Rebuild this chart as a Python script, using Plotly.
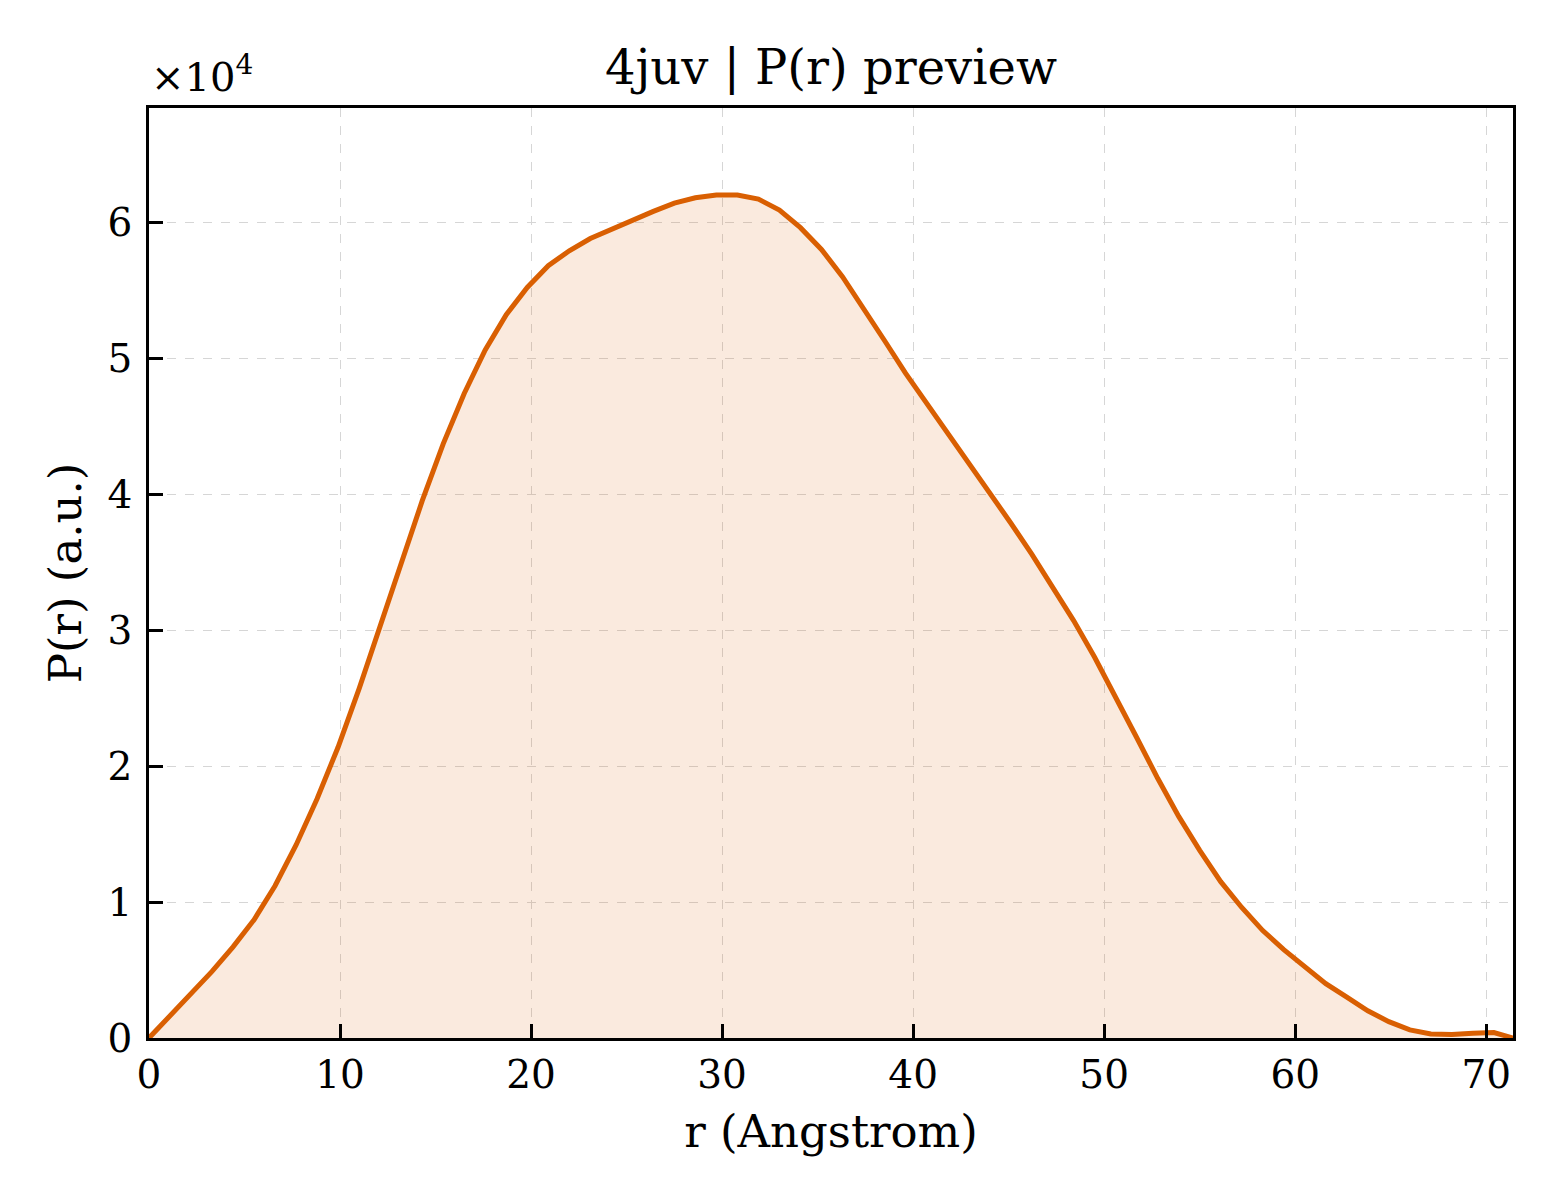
import plotly.graph_objects as go

# P(r) curve
r_vals = [0.0, 1.1, 2.2, 3.3, 4.4, 5.5, 6.6, 7.7, 8.8, 9.9,
          11.0, 12.1, 13.2, 14.3, 15.4, 16.5, 17.6, 18.7, 19.8, 20.9,
          22.0, 23.1, 24.2, 25.3, 26.4, 27.5, 28.6, 29.7, 30.8, 31.9,
          33.0, 34.1, 35.2, 36.3, 37.4, 38.5, 39.6, 40.7, 41.8, 42.9,
          44.0, 45.1, 46.2, 47.3, 48.4, 49.5, 50.6, 51.7, 52.8, 53.9,
          55.0, 56.1, 57.2, 58.3, 59.4, 60.5, 61.6, 62.7, 63.8, 64.9,
          66.0, 67.1, 68.2, 69.3, 70.4, 71.4]
p_vals = [0, 1600, 3200, 4900, 6700, 8700, 11200, 14200, 17600, 21400,
          25700, 30200, 34900, 39500, 43700, 47400, 50600, 53200, 55200, 56800,
          57900, 58800, 59500, 60200, 60800, 61400, 61800, 62000, 62000, 61700,
          60900, 59600, 58000, 56000, 53700, 51300, 48900, 46700, 44500, 42300,
          40200, 37900, 35600, 33200, 30700, 28000, 25100, 22100, 19100, 16300,
          13800, 11500, 9600, 7900, 6500, 5200, 4000, 3000, 2000, 1200,
          600, 300, 250, 350, 400, 0]

scale = 1e4
y_scaled = [p / scale for p in p_vals]

line_color = "#d95f02"
font_name = "DejaVu Serif"

fig = go.Figure()

fig.add_trace(go.Scatter(
    x=r_vals, y=y_scaled, mode="lines",
    line=dict(color=line_color, width=5),
    fill="tozeroy", fillcolor="rgba(217,95,2,0.13)",
    showlegend=False,
))

axis_common = dict(
    showline=True, linecolor="black", linewidth=2.5, mirror=True,
    ticks="inside", ticklen=14, tickwidth=2.5, tickcolor="black",
    showgrid=True, gridcolor="#d6d6d6", gridwidth=1, griddash="dash",
    zeroline=False,
    tickfont=dict(family=font_name, size=39, color="black"),
)

fig.update_xaxes(
    range=[0, 71.4], tickvals=[0, 10, 20, 30, 40, 50, 60, 70],
    title=dict(text="r (Angstrom)", font=dict(family=font_name, size=45, color="black"), standoff=20),
    **axis_common,
)
fig.update_yaxes(
    range=[0, 6.84], tickvals=[0, 1, 2, 3, 4, 5, 6], ticklabelstandoff=6,
    title=dict(text="P(r) (a.u.)", font=dict(family=font_name, size=45, color="black"), standoff=12),
    **axis_common,
)

fig.add_annotation(
    text="×10<sup>4</sup>", xref="paper", yref="paper", x=0, y=1,
    xanchor="left", yanchor="bottom", yshift=6, showarrow=False,
    font=dict(family=font_name, size=40, color="black"),
)

fig.update_layout(
    title=dict(text="4juv | P(r) preview", x=0.5, xref="paper", y=0.95, yref="container",
               yanchor="middle",
               font=dict(family=font_name, size=48, color="black")),
    width=1552, height=1192,
    margin=dict(l=141, r=47, t=100, b=162),
    plot_bgcolor="white", paper_bgcolor="white",
)

fig.write_html("out.html")
